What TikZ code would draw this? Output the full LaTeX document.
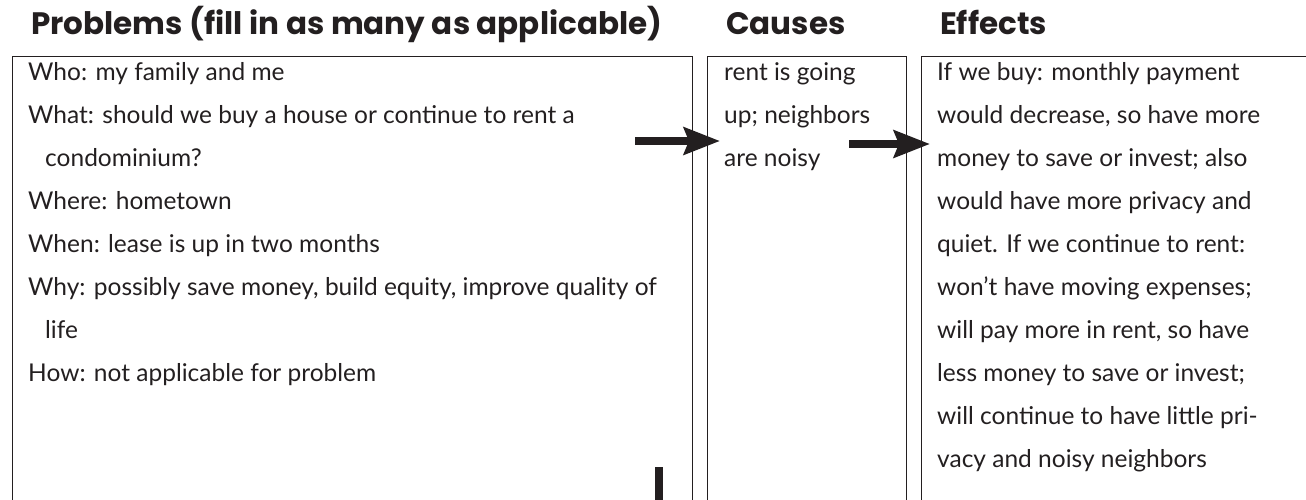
\documentclass[tikz,border=0pt]{standalone}
\usepackage{fontspec}
\setmainfont{Lato}
\newfontfamily\headfont{Poppins}
\usetikzlibrary{arrows.meta, positioning}
\definecolor{inkgray}{RGB}{35, 31, 32}

\begin{document}
\begin{tikzpicture}[x=1pt, y=-1pt,
    head/.style={anchor=base west, inner sep=0pt, text=inkgray, font=\headfont\fontsize{31}{36}\selectfont\bfseries},
    panel/.style={anchor=north west, inner sep=0pt, minimum height=445pt},
    body/.style={anchor=north west, align=left, inner sep=0pt, text=inkgray, font=\fontsize{24.5}{43}\selectfont},
    flow/.style={-{Stealth[length=36pt, width=27pt, inset=5pt]}, line width=8pt, draw=inkgray}
]
    \useasboundingbox (0,0) rectangle (1306,500);

    % Headings
    \node[head] (hprob) at (31,35) {Problems (fill in as many as applicable)};
    \node[head] (hcause) at (726,35) {Causes};
    \node[head] (heffect) at (940,35) {Effects};

    % Three open boxes
    \node[panel, minimum width=680pt] (problems) at (12,57) {};
    \node[panel, minimum width=199pt, right=15pt of problems] (causes) {};
    \node[panel, minimum width=384pt, right=15pt of causes] (effects) {};
    \foreach \b in {problems, causes, effects}
        \draw[line width=1pt, inkgray] (\b.south west) -- (\b.north west) -- (\b.north east) -- (\b.south east);

    % Texts
    \node[body] (probtext) at (28,62) {\rule{0pt}{18pt}Who: my family and me\\
        What: should we buy a house or continue to rent a\\
        \hspace*{17pt}condominium?\\
        Where: hometown\\
        When: lease is up in two months\\
        Why: possibly save money, build equity, improve quality of\\
        \hspace*{17pt}life\\
        How: not applicable for problem};
    \node[body] (causetext) at (724,62) {\rule{0pt}{18pt}rent is going\\
        up; neighbors\\
        are noisy};
    \node[body] (effecttext) at (937,62) {\rule{0pt}{18pt}If we buy: monthly payment\\
        would decrease, so have more\\
        money to save or invest; also\\
        would have more privacy and\\
        quiet. If we continue to rent:\\
        won’t have moving expenses;\\
        will pay more in rent, so have\\
        less money to save or invest;\\
        will continue to have little pri-\\
        vacy and noisy neighbors};

    % Arrows
    \coordinate (probout) at (635,141);
    \coordinate (causein) at (720,141);
    \coordinate (causeout) at (849,144);
    \coordinate (effectin) at (930,144);
    \draw[flow] (probout) -- (causein);
    \draw[flow] (causeout) -- (effectin);

    % Cut-off stub at the bottom
    \coordinate (stubtop) at (659,467);
    \coordinate (stubend) at (659,500);
    \draw[line width=8pt, inkgray] (stubtop) -- (stubend);
\end{tikzpicture}
\end{document}
